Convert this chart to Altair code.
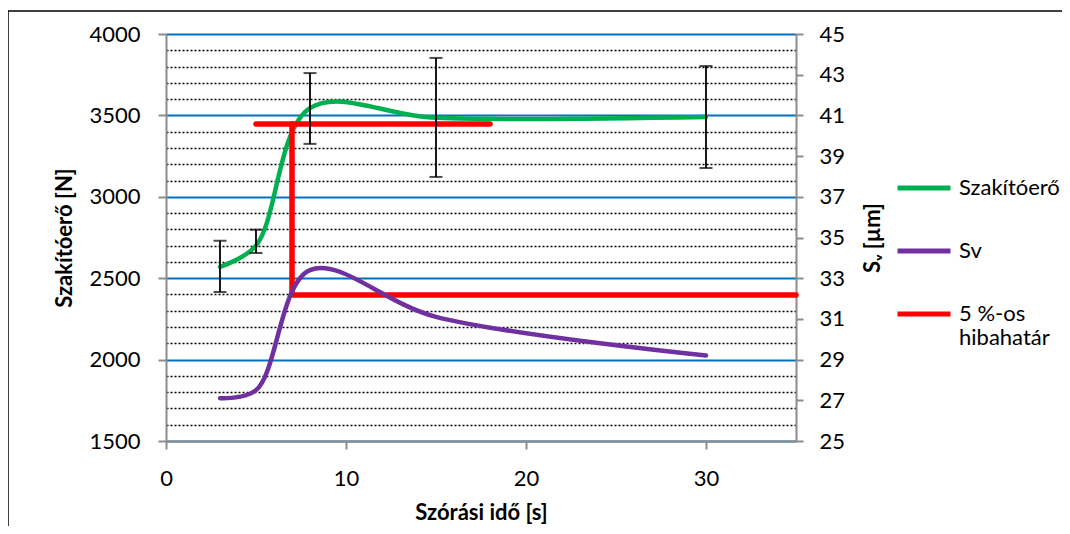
import altair as alt
import pandas as pd

# ---- data ----
x_pts = [3, 5, 8, 15, 30]
force = [2570, 2700, 3545, 3485, 3490]
force_lo = [2415, 2655, 3325, 3122, 3177]
force_hi = [2730, 2798, 3760, 3853, 3803]
sv = [27.1, 27.5, 33.4, 31.1, 29.2]

limit_x = [5, 18, 7, 7, 35]
limit_y = [3447, 3447, 3447, 2397, 2397]
limit_seg = [0, 0, 1, 1, 1]

series_names = ["Szakítóerő", "Sv", "5 %-os hibahatár"]
series_colors = ["#00B050", "#7030A0", "#FF0000"]

x_ticks = [0, 10, 20, 30]
left_ticks = list(range(1500, 4001, 100))
right_ticks = list(range(25, 46, 2))

FONT = "Lato"
W, H = 630, 407

df_force = pd.DataFrame({"x": x_pts, "y": force, "series": series_names[0]})
df_err = pd.DataFrame({"x": x_pts, "lo": force_lo, "hi": force_hi})
df_sv = pd.DataFrame({"x": x_pts, "sv": sv, "series": series_names[1]})
df_lim = pd.DataFrame({"x": limit_x, "y": limit_y, "seg": limit_seg,
                       "o": list(range(len(limit_x))), "series": series_names[2]})

color_scale = alt.Scale(domain=series_names, range=series_colors)
legend = alt.Legend(
    title=None, orient="none", legendX=729, legendY=125,
    symbolType="stroke", symbolStrokeWidth=5, symbolSize=2809,
    labelFont=FONT, labelFontSize=22, labelColor="black", labelOffset=6,
    rowPadding=23, labelLimit=300,
    labelExpr="datum.label == '5 %-os hibahatár' ? ['5 %-os', 'hibahatár'] : datum.label",
)
color_enc = alt.Color("series:N", scale=color_scale, legend=legend)

xscale = alt.Scale(domain=[0, 35], nice=False, zero=False)
xaxis = alt.Axis(values=x_ticks, tickCount=len(x_ticks), title="Szórási idő [s]", grid=False,
                 format="d", tickSize=8, labelPadding=19, titlePadding=13, labelOverlap=False,
                 labelFlush=False)
yscale_l = alt.Scale(domain=[1500, 4000], nice=False, zero=False)
major = "datum.value % 500 === 0"
yaxis_l = alt.Axis(
    values=left_ticks, tickCount=len(left_ticks), format="d", title="Szakítóerő [N]",
    labelExpr=f"{major} ? datum.label : ''", labelOverlap=False, labelFlush=False,
    grid=True,
    gridColor={"condition": {"test": major, "value": "#0070C0"}, "value": "#000000"},
    gridDash={"condition": {"test": major, "value": []}, "value": [2, 2]},
    gridWidth={"condition": {"test": major, "value": 2}, "value": 1.5},
    tickOpacity={"condition": {"test": major, "value": 1}, "value": 0},
    tickSize=8, labelPadding=18, titlePadding=12,
)
yscale_r = alt.Scale(domain=[25, 45], nice=False, zero=False)
yaxis_r = alt.Axis(values=right_ticks, tickCount=len(right_ticks), format="d", orient="right",
                   title="Sᵥ [µm]", grid=False, tickSize=7, labelPadding=16, titlePadding=40,
                   titleAngle=270, labelOverlap=False, labelFlush=False)

green = alt.Chart(df_force).mark_line(
    interpolate="catmull-rom", strokeWidth=4.5, strokeCap="round"
).encode(
    x=alt.X("x:Q", scale=xscale, axis=xaxis),
    y=alt.Y("y:Q", scale=yscale_l, axis=yaxis_l),
    color=color_enc,
)

red = alt.Chart(df_lim).mark_line(strokeWidth=5.5, strokeCap="round", strokeJoin="miter").encode(
    x=alt.X("x:Q", scale=xscale),
    y=alt.Y("y:Q", scale=yscale_l),
    detail="seg:N",
    order="o:Q",
    color=color_enc,
)

err_rule = alt.Chart(df_err).mark_rule(color="black", strokeWidth=1.8).encode(
    x=alt.X("x:Q", scale=xscale),
    y=alt.Y("lo:Q", scale=yscale_l),
    y2="hi:Q",
)
err_cap_lo = alt.Chart(df_err).mark_tick(color="black", orient="horizontal", size=13, thickness=2).encode(
    x=alt.X("x:Q", scale=xscale),
    y=alt.Y("lo:Q", scale=yscale_l),
)
err_cap_hi = alt.Chart(df_err).mark_tick(color="black", orient="horizontal", size=13, thickness=2).encode(
    x=alt.X("x:Q", scale=xscale),
    y=alt.Y("hi:Q", scale=yscale_l),
)

frame_df = pd.DataFrame({"k": [0]})
frame_top = alt.Chart(frame_df).mark_rule(color="black", strokeWidth=1.5).encode(
    x=alt.value(-158), x2=alt.value(W + 270), y=alt.value(-23)
)
frame_left = alt.Chart(frame_df).mark_rule(color="black", strokeWidth=1.5).encode(
    x=alt.value(-158), y=alt.value(-23), y2=alt.value(H + 100)
)

left = alt.layer(green, red, err_rule, err_cap_lo, err_cap_hi, frame_top, frame_left)

purple = alt.Chart(df_sv).mark_line(
    interpolate="catmull-rom", strokeWidth=4.5, strokeCap="round"
).encode(
    x=alt.X("x:Q", scale=xscale),
    y=alt.Y("sv:Q", scale=yscale_r, axis=yaxis_r),
    color=color_enc,
)

chart = alt.layer(left, purple).resolve_scale(y="independent").properties(
    width=W, height=H,
    background="white",
    autosize=alt.AutoSizeParams(type="none"),
    padding={"left": 158, "top": 26, "right": 266, "bottom": 85},
).configure_view(stroke=None).configure_axis(
    labelFont=FONT, labelFontSize=22, labelColor="black",
    titleFont=FONT, titleFontSize=22, titleFontWeight="bold", titleColor="black",
    domainColor="#8C8C8C", domainWidth=2, tickColor="#8C8C8C", tickWidth=2,
)

chart.save("out.html", embed_options={"renderer": "svg", "actions": False})
